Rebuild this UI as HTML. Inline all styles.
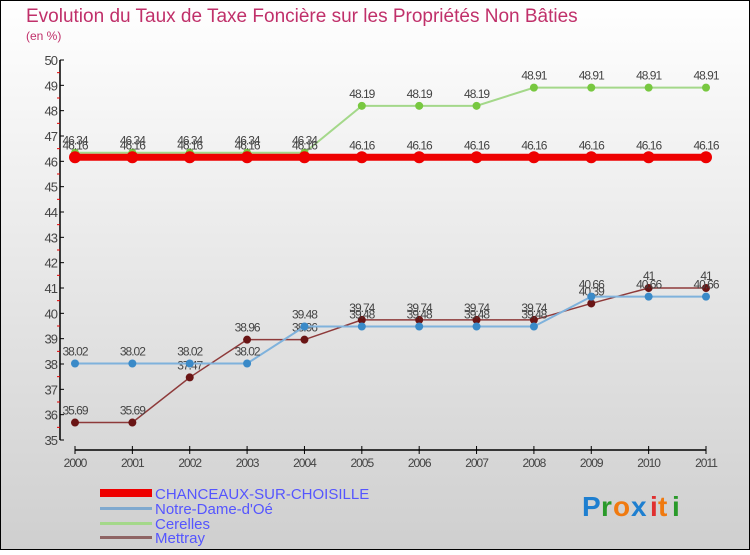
<!DOCTYPE html>
<html><head><meta charset="utf-8"><style>
html,body{margin:0;padding:0}
body{width:750px;height:550px;overflow:hidden;font-family:"Liberation Sans",sans-serif}
svg text{font-family:"Liberation Sans",sans-serif}
</style></head><body>
<svg width="750" height="550" xmlns="http://www.w3.org/2000/svg">
<defs><linearGradient id="bg" x1="0" y1="0" x2="0" y2="1"><stop offset="0" stop-color="#ffffff"/><stop offset="1" stop-color="#cfcfcf"/></linearGradient></defs>
<rect x="0.5" y="0.5" width="749" height="549" fill="url(#bg)" stroke="#000"/>
<text x="26" y="22" font-size="19" fill="#c0306a">Evolution du Taux de Taxe Foncière sur les Propriétés Non Bâties</text>
<text x="26" y="40" font-size="12" fill="#c0306a">(en %)</text>
<g id="axes"></g>
<g id="series"></g>
<g id="legend">
<rect x="100" y="489" width="52" height="8" fill="#ee0000"/>
<text x="155" y="499" font-size="15" fill="#5555ff">CHANCEAUX-SUR-CHOISILLE</text>
<rect x="100" y="507" width="52" height="3" fill="#7fa9cf"/>
<text x="155" y="514" font-size="15" fill="#5555ff">Notre-Dame-d'Oé</text>
<rect x="100" y="522" width="52" height="3" fill="#a4d88a"/>
<text x="155" y="529" font-size="15" fill="#5555ff">Cerelles</text>
<rect x="100" y="536" width="52" height="3" fill="#8e6464"/>
<text x="155" y="543" font-size="15" fill="#5555ff">Mettray</text>
</g>
<g font-size="28" font-weight="bold">
<text x="582" y="516" fill="#1e7fd0">P</text><text x="601" y="516" fill="#2a9a2a">r</text><text x="613" y="516" fill="#f07a10">o</text><text x="631" y="516" fill="#1e7fd0">x</text><text x="650" y="516" fill="#e03030">i</text><text x="658" y="516" fill="#f07a10">t</text><text x="672" y="516" fill="#2a9a2a">i</text>
</g>
</svg>
<script>
const years=[2000,2001,2002,2003,2004,2005,2006,2007,2008,2009,2010,2011];
const yTicks=[35,36,37,38,39,40,41,42,43,44,45,46,47,48,49,50];
const chanceaux=[46.16,46.16,46.16,46.16,46.16,46.16,46.16,46.16,46.16,46.16,46.16,46.16];
const notreDame=[38.02,38.02,38.02,38.02,39.48,39.48,39.48,39.48,39.48,40.66,40.66,40.66];
const cerelles=[46.34,46.34,46.34,46.34,46.34,48.19,48.19,48.19,48.91,48.91,48.91,48.91];
const mettray=[35.69,35.69,37.47,38.96,38.96,39.74,39.74,39.74,39.74,40.39,41,41];
const NS="http://www.w3.org/2000/svg";
const x=i=>75+i*(706-75)/(years.length-1);
const y=v=>440-(v-35)*(440-60)/15;
function mk(tag,attrs,parent,txt){const e=document.createElementNS(NS,tag);for(const k in attrs)e.setAttribute(k,attrs[k]);if(txt!==undefined)e.textContent=txt;parent.appendChild(e);return e;}
const ax=document.getElementById('axes');
let l=mk('line',{x1:60,y1:y(50),x2:60,y2:y(35),stroke:'#000','stroke-width':1.5},ax);


l=mk('line',{x1:75,y1:450,x2:706,y2:450,stroke:'#000','stroke-width':1.5},ax);


yTicks.forEach(v=>{
  mk('line',{x1:60,y1:y(v),x2:64,y2:y(v),stroke:'#000'},ax);
  if(v<50)mk('line',{x1:57,y1:y(v+0.5),x2:60,y2:y(v+0.5),stroke:'#e00000'},ax);
  const t=mk('text',{x:57,y:y(v)+5,'font-size':13,fill:'#444','text-anchor':'end','letter-spacing':'-1'},ax,String(v));
  
  
});
years.forEach((yr,i)=>{
  mk('line',{x1:x(i),y1:446,x2:x(i),y2:454,stroke:'#000'},ax);
  const t=mk('text',{x:x(i),y:467,'font-size':12,fill:'#444','text-anchor':'middle','letter-spacing':'-1'},ax,String(yr));
  
  
});
const sg=document.getElementById('series');
function series(data,name,color,w,r,fillc,labelDy){
  const g=mk('g',{},sg);
  
  
  const p=mk('polyline',{points:data.map((v,i)=>x(i)+','+y(v)).join(' '),fill:'none',stroke:color,'stroke-width':w},g);
  
  
  data.forEach((v,i)=>{
    const c=mk('circle',{cx:x(i),cy:y(v),r:r,fill:fillc},g);
    
    
    const t=mk('text',{x:x(i),y:y(v)+labelDy,'font-size':12,fill:'#444','text-anchor':'middle','letter-spacing':'-1'},g,String(v));
    
    
  });
}
series(mettray,'mettray','#8e3a3a',1.5,4,'#6a1515',-8);
series(notreDame,'notre-dame','#7fb2dc',2,4,'#3a8ac8',-8);
series(cerelles,'cerelles','#a4d88a',2,4,'#78c840',-8);
series(chanceaux,'chanceaux','#ee0000',7,6,'#ee0000',-8);
</script>
</body></html>
